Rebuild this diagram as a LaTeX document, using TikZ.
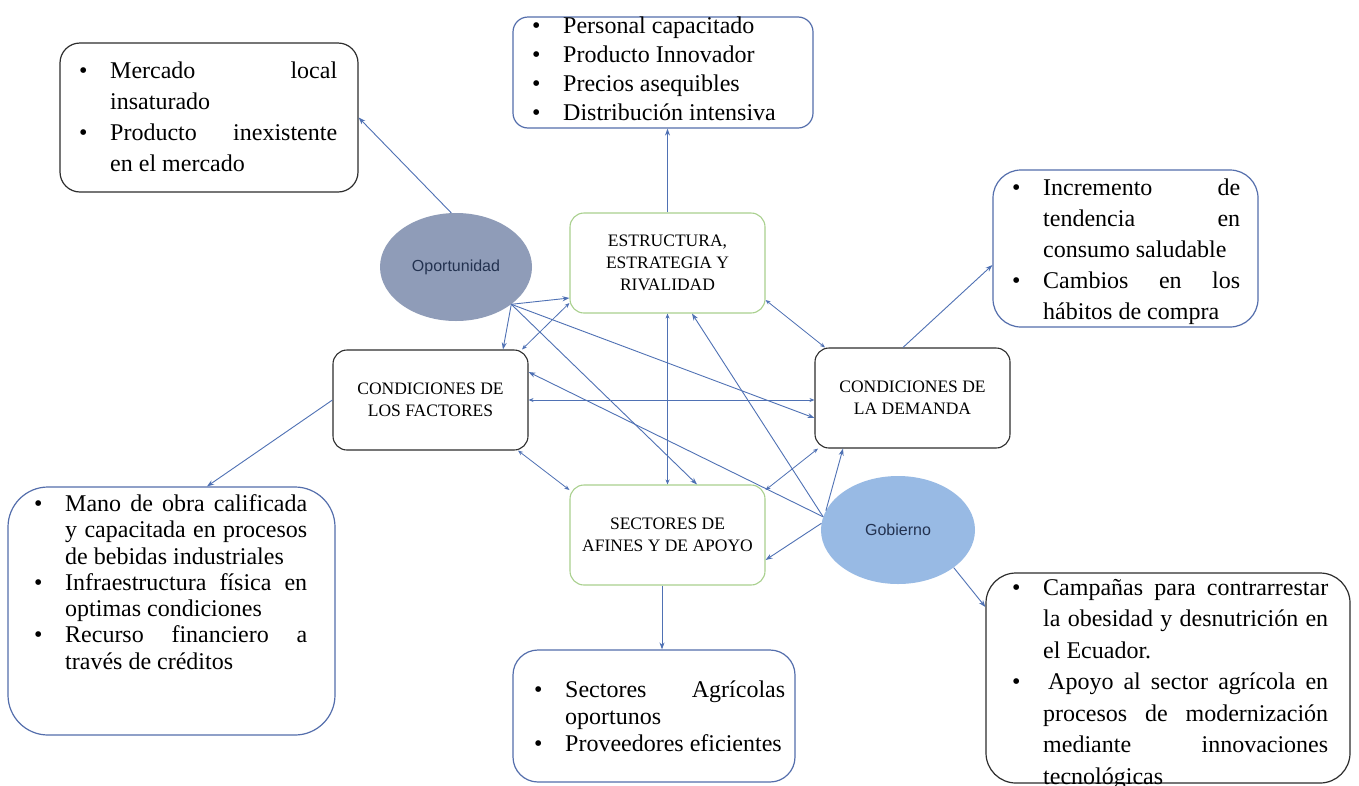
\documentclass[tikz,border=0pt]{standalone}
\usepackage{fontspec}
\setmainfont{Liberation Serif}
\newfontfamily\elfont{Liberation Sans}
\usetikzlibrary{arrows.meta,shapes.geometric,calc}
\definecolor{conn}{RGB}{79,113,180}
\definecolor{blk}{RGB}{45,45,45}
\definecolor{bluebox}{RGB}{84,110,172}
\definecolor{grn}{RGB}{169,208,142}
\definecolor{oppfill}{RGB}{143,156,184}
\definecolor{gobfill}{RGB}{152,186,228}
\definecolor{eltext}{RGB}{35,50,80}
\newlength{\bw}\setlength{\bw}{32pt}
\newcommand{\bul}{\makebox[\bw][l]{\hspace{1pt}\textbullet}}
\newcommand{\ind}{\hspace*{\bw}}
\newcommand{\jl}[2]{\makebox[#1][s]{#2}}
\begin{document}
\begin{tikzpicture}[x=1pt,y=-1pt,
  cbox/.style={draw=#1, rounded corners=14pt, minimum width=195pt, minimum height=100pt,
    align=center, font=\fontsize{17.5}{22}\selectfont, line width=1.1pt, inner sep=0pt},
  obox/.style={rounded corners=#1, line width=1.2pt, inner sep=0pt},
  txt/.style={align=left, anchor=west, inner sep=0pt},
  elli/.style={ellipse, draw=none, inner sep=0pt, font=\elfont\fontsize{16}{19}\selectfont, text=eltext},
  arr/.style={draw=conn, line width=0.9pt, -{Stealth[length=7pt,width=5pt]}},
  darr/.style={draw=conn, line width=0.8pt, {Stealth[length=5pt,width=4pt]}-{Stealth[length=5pt,width=4pt]}}]
\useasboundingbox (0,0) rectangle (1359,785);
\fill[white] (0,0) rectangle (1359,785);

% outer boxes
\node[obox=20pt, draw=blk, minimum width=298pt, minimum height=149pt] (mk) at (209,117.5) {};
\node[txt, font=\fontsize{24}{31}\selectfont] (mkt) at (78,116.5)
 {\bul\jl{227pt}{Mercado local}\\ \ind insaturado\\ \bul\jl{227pt}{Producto inexistente}\\ \ind en el mercado};

\node[obox=15pt, draw=bluebox, minimum width=300pt, minimum height=111pt] (pc) at (663,72.5) {};
\node[txt, font=\fontsize{24}{29}\selectfont] (pct) at (531,68.75)
 {\bul Personal capacitado\\ \bul Producto Innovador\\ \bul Precios asequibles\\ \bul Distribución intensiva};

\node[obox=28pt, draw=bluebox, minimum width=265pt, minimum height=157pt] (ic) at (1125.5,248.5) {};
\node[txt, font=\fontsize{24}{31}\selectfont] (ict) at (1011,252)
 {\bul\jl{197pt}{Incremento de}\\ \ind\jl{197pt}{tendencia en}\\ \ind consumo saludable\\ \bul\jl{197pt}{Cambios en los}\\ \ind hábitos de compra};

\node[obox=40pt, draw=bluebox, minimum width=327pt, minimum height=248pt] (mo) at (171.5,611) {};
\node[txt, font=\fontsize{24}{26.3}\selectfont] (mot) at (33,582)
 {\bul\jl{242pt}{Mano de obra calificada}\\ \ind\jl{242pt}{y capacitada en procesos}\\ \ind de bebidas industriales\\
  \bul\jl{242pt}{Infraestructura física en}\\ \ind optimas condiciones\\
  \bul\jl{242pt}{Recurso financiero a}\\ \ind través de créditos};

\node[obox=25pt, draw=bluebox, minimum width=282pt, minimum height=132pt] (sa) at (654,716) {};
\node[txt, font=\fontsize{24}{27}\selectfont] (sat) at (533,716)
 {\bul\jl{220pt}{Sectores Agrícolas}\\ \ind oportunos\\ \bul Proveedores eficientes};

\node[obox=30pt, draw=blk, minimum width=364pt, minimum height=210pt] (cp) at (1168,678) {};
\node[txt, font=\fontsize{24}{31.5}\selectfont] (cpt) at (1011,684)
 {\bul\jl{285pt}{Campañas para contrarrestar}\\ \ind\jl{285pt}{la obesidad y desnutrición en}\\ \ind el Ecuador.\\
  \bul\jl{285pt}{\hspace*{5pt}Apoyo al sector agrícola en}\\ \ind\jl{285pt}{procesos de modernización}\\ \ind\jl{285pt}{mediante innovaciones}\\ \ind tecnológicas};

% central boxes
\node[cbox=grn] (er) at (667.5,263) {ESTRUCTURA,\\ESTRATEGIA Y\\RIVALIDAD};
\node[cbox=blk] (cf) at (430.5,400) {CONDICIONES DE\\LOS FACTORES};
\node[cbox=blk] (cd) at (912.5,398) {CONDICIONES DE\\LA DEMANDA};
\node[cbox=grn] (sd) at (667.5,535) {SECTORES DE\\AFINES Y DE APOYO};

% ellipses
\node[elli, fill=oppfill, minimum width=152pt, minimum height=108pt] (opp) at (456,267) {Oportunidad};
\node[elli, fill=gobfill, minimum width=154pt, minimum height=108pt] (gob) at (898,530) {Gobierno};

% outer connectors
\draw[arr] (opp.95) -- (mk.east);
\draw[arr] (er.north) -- (er.north |- pc.south);
\draw[arr] ([xshift=-9.5pt]cd.north) -- ([yshift=-16.5pt]ic.west);
\draw[arr] (cf.west) -- ([xshift=35.5pt]mo.north);
\draw[arr] ([xshift=-5.5pt]sd.south) -- ([xshift=-5.5pt]sd.south |- sa.north);
\draw[arr] (gob.-34) -- ([yshift=71pt]cp.west);

% central connectors
\draw[arr] (opp.-34) -- ([yshift=-35pt]er.west);
\draw[arr] (opp.-34) -- ([xshift=72.5pt]cf.north);
\draw[darr] ([xshift=91.5pt]cf.north) -- ([yshift=-40pt]er.west);
\draw[arr] (opp.-34) -- ([xshift=29.5pt]sd.north);
\draw[arr] (opp.-34) -- ([yshift=-20pt]cd.west);
\draw[darr] (cf.east) -- (cf.east -| cd.west);
\draw[arr] (gob.170) -- ([yshift=28pt]cf.east);
\draw[darr] (er.south) -- (sd.north);
\draw[arr] (gob.170) -- ([xshift=24.5pt]er.south);
\draw[darr] ([yshift=-37pt]er.east) -- ([xshift=-87.5pt]cd.north);
\draw[darr] ([xshift=87.5pt]cf.south) -- ([yshift=45pt]sd.west);
\draw[darr] ([yshift=45pt]sd.east) -- ([xshift=-94.5pt]cd.south);
\draw[arr] (gob.165) -- ([xshift=-69.5pt]cd.south);
\draw[arr] (gob.175) -- ([yshift=-25pt]sd.east);
\end{tikzpicture}
\end{document}
